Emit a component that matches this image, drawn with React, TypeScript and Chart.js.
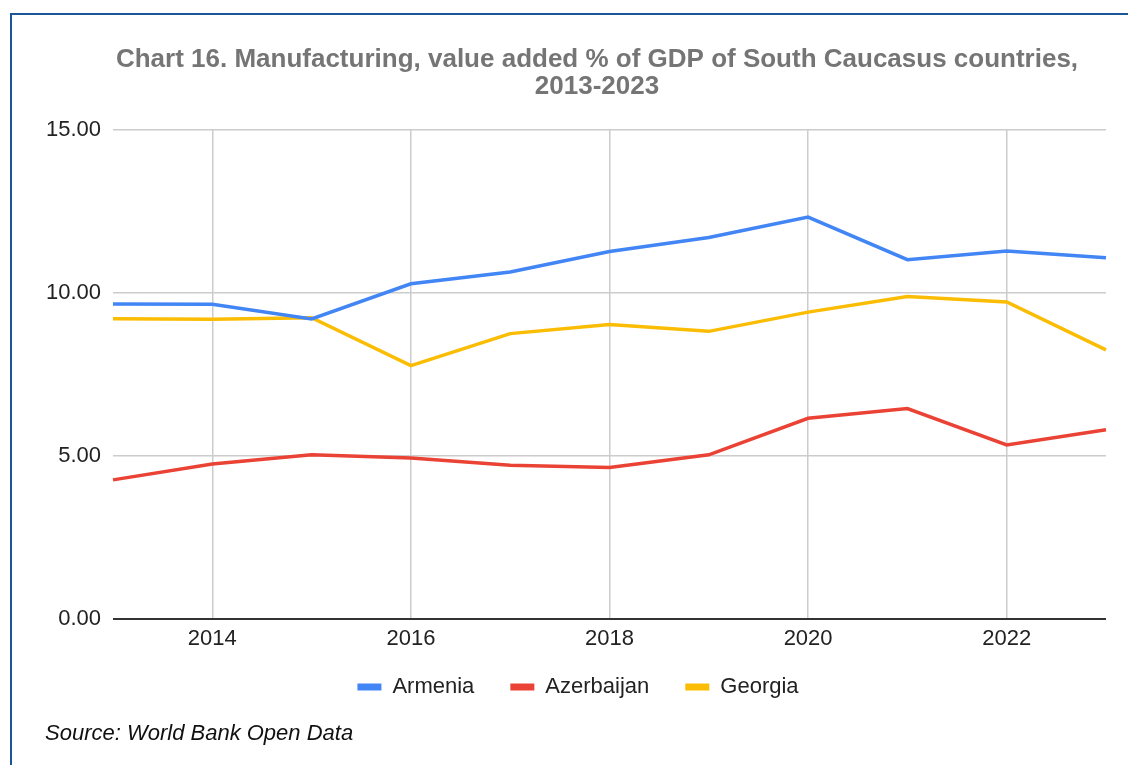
import React, { useEffect, useRef } from "react";
import { Chart, registerables } from "chart.js";

Chart.register(...registerables);

const years = ["2013", "2014", "2015", "2016", "2017", "2018", "2019", "2020", "2021", "2022", "2023"];
const armenia = [9.66, 9.65, 9.2, 10.28, 10.64, 11.27, 11.7, 12.33, 11.02, 11.29, 11.08];
const azerbaijan = [4.26, 4.75, 5.03, 4.93, 4.71, 4.64, 5.03, 6.15, 6.45, 5.33, 5.8];
const georgia = [9.21, 9.19, 9.24, 7.77, 8.75, 9.03, 8.82, 9.41, 9.89, 9.72, 8.25];

const titleLines = ["Chart 16. Manufacturing, value added % of GDP of South Caucasus countries,", "2013-2023"];
const sourceText = "Source: World Bank Open Data";
const FONT = "'Liberation Sans', Arial, Helvetica, sans-serif";

const shiftPlugin = {
  id: "shiftBoxes",
  afterLayout(chart: any) {
    for (const box of chart.boxes) {
      if (box === chart.legend) {
        box.left += 25;
        box.right += 25;
        box.top -= 19;
        box.bottom -= 19;
      } else if (box === chart.titleBlock) {
        box.left += 44;
        box.right += 44;
      }
    }
  },
};

export default function App() {
  const ref = useRef<HTMLCanvasElement>(null);
  useEffect(() => {
    if (!ref.current) return;
    const chart = new Chart(ref.current, {
      type: "line",
      data: {
        labels: years,
        datasets: [
          { label: "Armenia", data: armenia, borderColor: "#4285F4", backgroundColor: "#4285F4" },
          { label: "Azerbaijan", data: azerbaijan, borderColor: "#EA4335", backgroundColor: "#EA4335" },
          { label: "Georgia", data: georgia, borderColor: "#FBBC04", backgroundColor: "#FBBC04" },
        ],
      },
      options: {
        responsive: false,
        animation: false,
        elements: {
          line: { borderWidth: 3.5, tension: 0 },
          point: { radius: 0, hoverRadius: 0 },
        },
        layout: { padding: { left: 0, right: 22, top: 0, bottom: 38 } },
        plugins: {
          title: {
            display: true,
            text: titleLines,
            color: "#757575",
            font: { family: FONT, size: 26, weight: "bold", lineHeight: 1.04 },
            padding: { top: 46, bottom: 30 },
          },
          legend: {
            position: "bottom",
            labels: {
              boxWidth: 24,
              boxHeight: 7,
              padding: 36,
              color: "#222",
              font: { family: FONT, size: 22 },
              generateLabels: (c: any) =>
                (Chart as any).defaults.plugins.legend.labels
                  .generateLabels(c)
                  .map((l: any) => ({ ...l, lineWidth: 0 })),
            },
          },
          tooltip: { enabled: false },
        },
        scales: {
          x: {
            type: "category",
            offset: false,
            border: { display: false },
            grid: {
              offset: false,
              drawTicks: false,
              lineWidth: 1.5,
              color: (ctx: any) => (ctx.index % 2 === 1 ? "#cccccc" : "rgba(0,0,0,0)"),
            },
            ticks: {
              autoSkip: false,
              maxRotation: 0,
              padding: 7,
              color: "#222",
              font: { family: FONT, size: 22 },
              callback: (_v: any, i: number) => (i % 2 === 1 ? years[i] : ""),
            },
          },
          y: {
            min: 0,
            max: 15,
            border: { display: false },
            afterFit: (scale: any) => {
              scale.width = 113;
            },
            grid: {
              drawTicks: false,
              lineWidth: (ctx: any) => (ctx.tick && ctx.tick.value === 0 ? 2 : 1.5),
              color: (ctx: any) => (ctx.tick && ctx.tick.value === 0 ? "#333333" : "#cccccc"),
            },
            ticks: {
              stepSize: 5,
              padding: 12,
              color: "#222",
              font: { family: FONT, size: 22 },
              callback: (v: any) => Number(v).toFixed(2),
            },
          },
        },
      },
      plugins: [shiftPlugin],
    } as any);
    return () => chart.destroy();
  }, []);

  return (
    <div style={{ position: "fixed", left: 0, top: 0, width: 1128, height: 765, overflow: "hidden", background: "#fff" }}>
      <div
        style={{
          position: "absolute",
          left: 10,
          top: 13,
          width: 1200,
          height: 800,
          borderLeft: "2px solid #1b5797",
          borderTop: "2px solid #1b5797",
        }}
      />
      <canvas ref={ref} width={1128} height={765} style={{ position: "absolute", left: 0, top: 0 }} />
      <div
        style={{
          position: "absolute",
          left: 45,
          top: 720,
          fontFamily: FONT,
          fontStyle: "italic",
          fontSize: 22,
          lineHeight: "26px",
          color: "#111",
          whiteSpace: "nowrap",
        }}
      >
        {sourceText}
      </div>
    </div>
  );
}
